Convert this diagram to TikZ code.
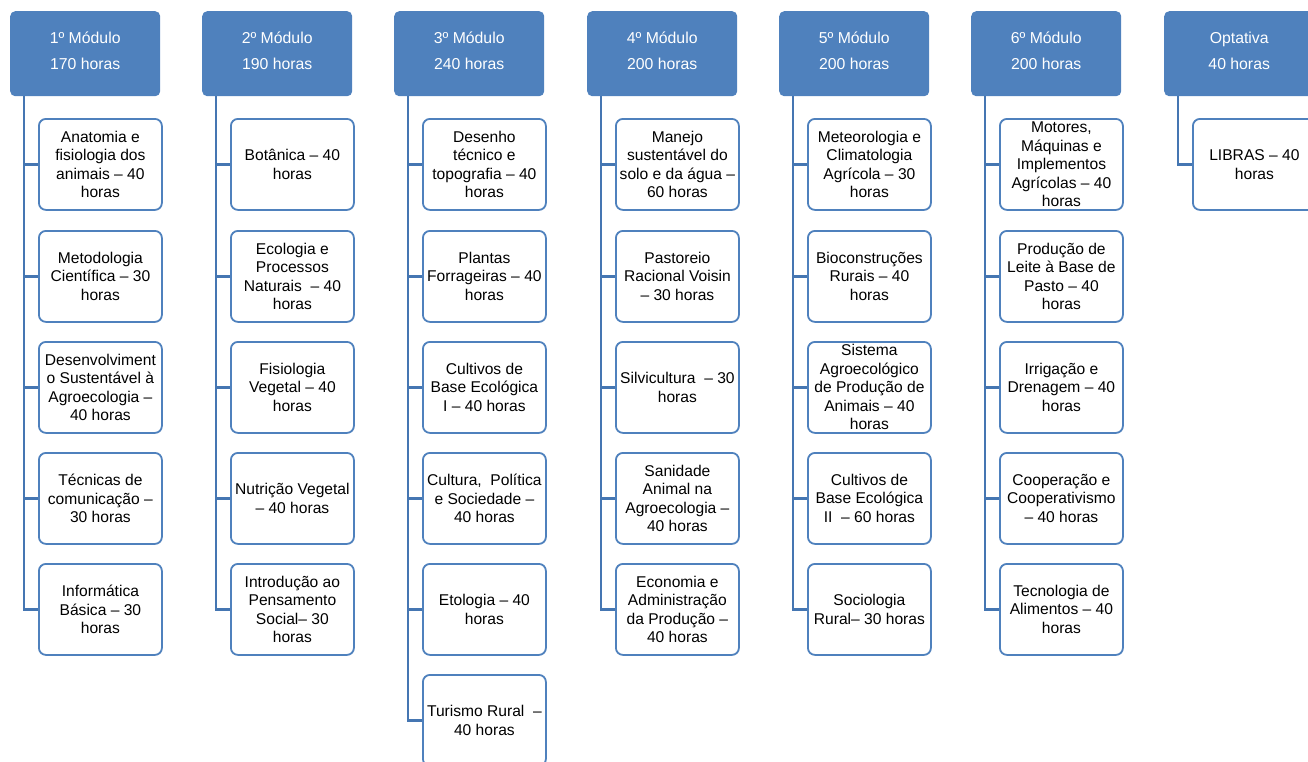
\documentclass[tikz,border=0pt]{standalone}
\usepackage{fontspec}
\setmainfont{Liberation Sans}
\definecolor{hblue}{RGB}{79,129,189}
\definecolor{cblue}{RGB}{69,118,178}
\newcommand{\hfnt}{\fontsize{15.8}{26}\selectfont}
\newcommand{\ifnt}{\fontsize{15.6}{18.5}\selectfont}
\begin{document}
\begin{tikzpicture}[x=1pt,y=1pt,
  hdr/.style={fill=hblue, rounded corners=5pt, minimum width=150pt, minimum height=85pt, anchor=north west, text=white, align=center, font=\hfnt, inner sep=0pt, text depth=6.7pt},
  item/.style={draw=hblue, line width=1.8pt, fill=white, rounded corners=7pt, minimum width=123pt, minimum height=91pt, anchor=north west, align=center, font=\ifnt, inner sep=0pt},
  conn/.style={draw=cblue, line width=2.6pt}]
\useasboundingbox (0,0) rectangle (1308,-761);
% headers
\node[hdr] (h1) at (10,-11) {1º Módulo\\170 horas};
\node[hdr] (h2) at (202,-11) {2º Módulo\\190 horas};
\node[hdr] (h3) at (394,-11) {3º Módulo\\240 horas};
\node[hdr] (h4) at (587,-11) {4º Módulo\\200 horas};
\node[hdr] (h5) at (779,-11) {5º Módulo\\200 horas};
\node[hdr] (h6) at (971,-11) {6º Módulo\\200 horas};
\node[hdr] (h7) at (1164,-11) {Optativa\\40 horas};
% column 1
\node[item] (c1a) at (38,-118) {Anatomia e\\fisiologia dos\\animais – 40\\horas};
\node[item] (c1b) at (38,-230) {Metodologia\\Científica – 30\\horas};
\node[item] (c1c) at (38,-341) {Desenvolviment\\o Sustentável à\\Agroecologia –\\40 horas};
\node[item] (c1d) at (38,-452) {Técnicas de\\comunicação –\\30 horas};
\node[item] (c1e) at (38,-563) {Informática\\Básica – 30\\horas};
% column 2
\node[item] (c2a) at (230,-118) {Botânica – 40\\horas};
\node[item] (c2b) at (230,-230) {Ecologia e\\Processos\\Naturais \ – 40\\horas};
\node[item] (c2c) at (230,-341) {Fisiologia\\Vegetal – 40\\horas};
\node[item] (c2d) at (230,-452) {Nutrição Vegetal\\– 40 horas};
\node[item] (c2e) at (230,-563) {Introdução ao\\Pensamento\\Social– 30\\horas};
% column 3
\node[item] (c3a) at (422,-118) {Desenho\\técnico e\\topografia – 40\\horas};
\node[item] (c3b) at (422,-230) {Plantas\\Forrageiras – 40\\horas};
\node[item] (c3c) at (422,-341) {Cultivos de\\Base Ecológica\\I – 40 horas};
\node[item] (c3d) at (422,-452) {Cultura, \ Política\\e Sociedade –\\40 horas};
\node[item] (c3e) at (422,-563) {Etologia – 40\\horas};
\node[item] (c3f) at (422,-674) {Turismo Rural \ –\\40 horas};
% column 4
\node[item] (c4a) at (615,-118) {Manejo\\sustentável do\\solo e da água –\\60 horas};
\node[item] (c4b) at (615,-230) {Pastoreio\\Racional Voisin\\– 30 horas};
\node[item] (c4c) at (615,-341) {Silvicultura \ – 30\\horas};
\node[item] (c4d) at (615,-452) {Sanidade\\Animal na\\Agroecologia –\\40 horas};
\node[item] (c4e) at (615,-563) {Economia e\\Administração\\da Produção –\\40 horas};
% column 5
\node[item] (c5a) at (807,-118) {Meteorologia e\\Climatologia\\Agrícola – 30\\horas};
\node[item] (c5b) at (807,-230) {Bioconstruções\\Rurais – 40\\horas};
\node[item] (c5c) at (807,-341) {Sistema\\Agroecológico\\de Produção de\\Animais – 40\\horas};
\node[item] (c5d) at (807,-452) {Cultivos de\\Base Ecológica\\II \ – 60 horas};
\node[item] (c5e) at (807,-563) {Sociologia\\Rural– 30 horas};
% column 6
\node[item] (c6a) at (999,-118) {Motores,\\Máquinas e\\Implementos\\Agrícolas – 40\\horas};
\node[item] (c6b) at (999,-230) {Produção de\\Leite à Base de\\Pasto – 40\\horas};
\node[item] (c6c) at (999,-341) {Irrigação e\\Drenagem – 40\\horas};
\node[item] (c6d) at (999,-452) {Cooperação e\\Cooperativismo\\– 40 horas};
\node[item] (c6e) at (999,-563) {Tecnologia de\\Alimentos – 40\\horas};
% column 7
\node[item] (c7a) at (1192,-118) {LIBRAS – 40\\horas};
% connectors
\foreach \c in {a,b,c,d,e} \draw[conn] ([xshift=14pt]h1.south west) |- (c1\c.west);
\foreach \c in {a,b,c,d,e} \draw[conn] ([xshift=14pt]h2.south west) |- (c2\c.west);
\foreach \c in {a,b,c,d,e,f} \draw[conn] ([xshift=14pt]h3.south west) |- (c3\c.west);
\foreach \c in {a,b,c,d,e} \draw[conn] ([xshift=14pt]h4.south west) |- (c4\c.west);
\foreach \c in {a,b,c,d,e} \draw[conn] ([xshift=14pt]h5.south west) |- (c5\c.west);
\foreach \c in {a,b,c,d,e} \draw[conn] ([xshift=14pt]h6.south west) |- (c6\c.west);
\draw[conn] ([xshift=14pt]h7.south west) |- (c7a.west);
\end{tikzpicture}
\end{document}
